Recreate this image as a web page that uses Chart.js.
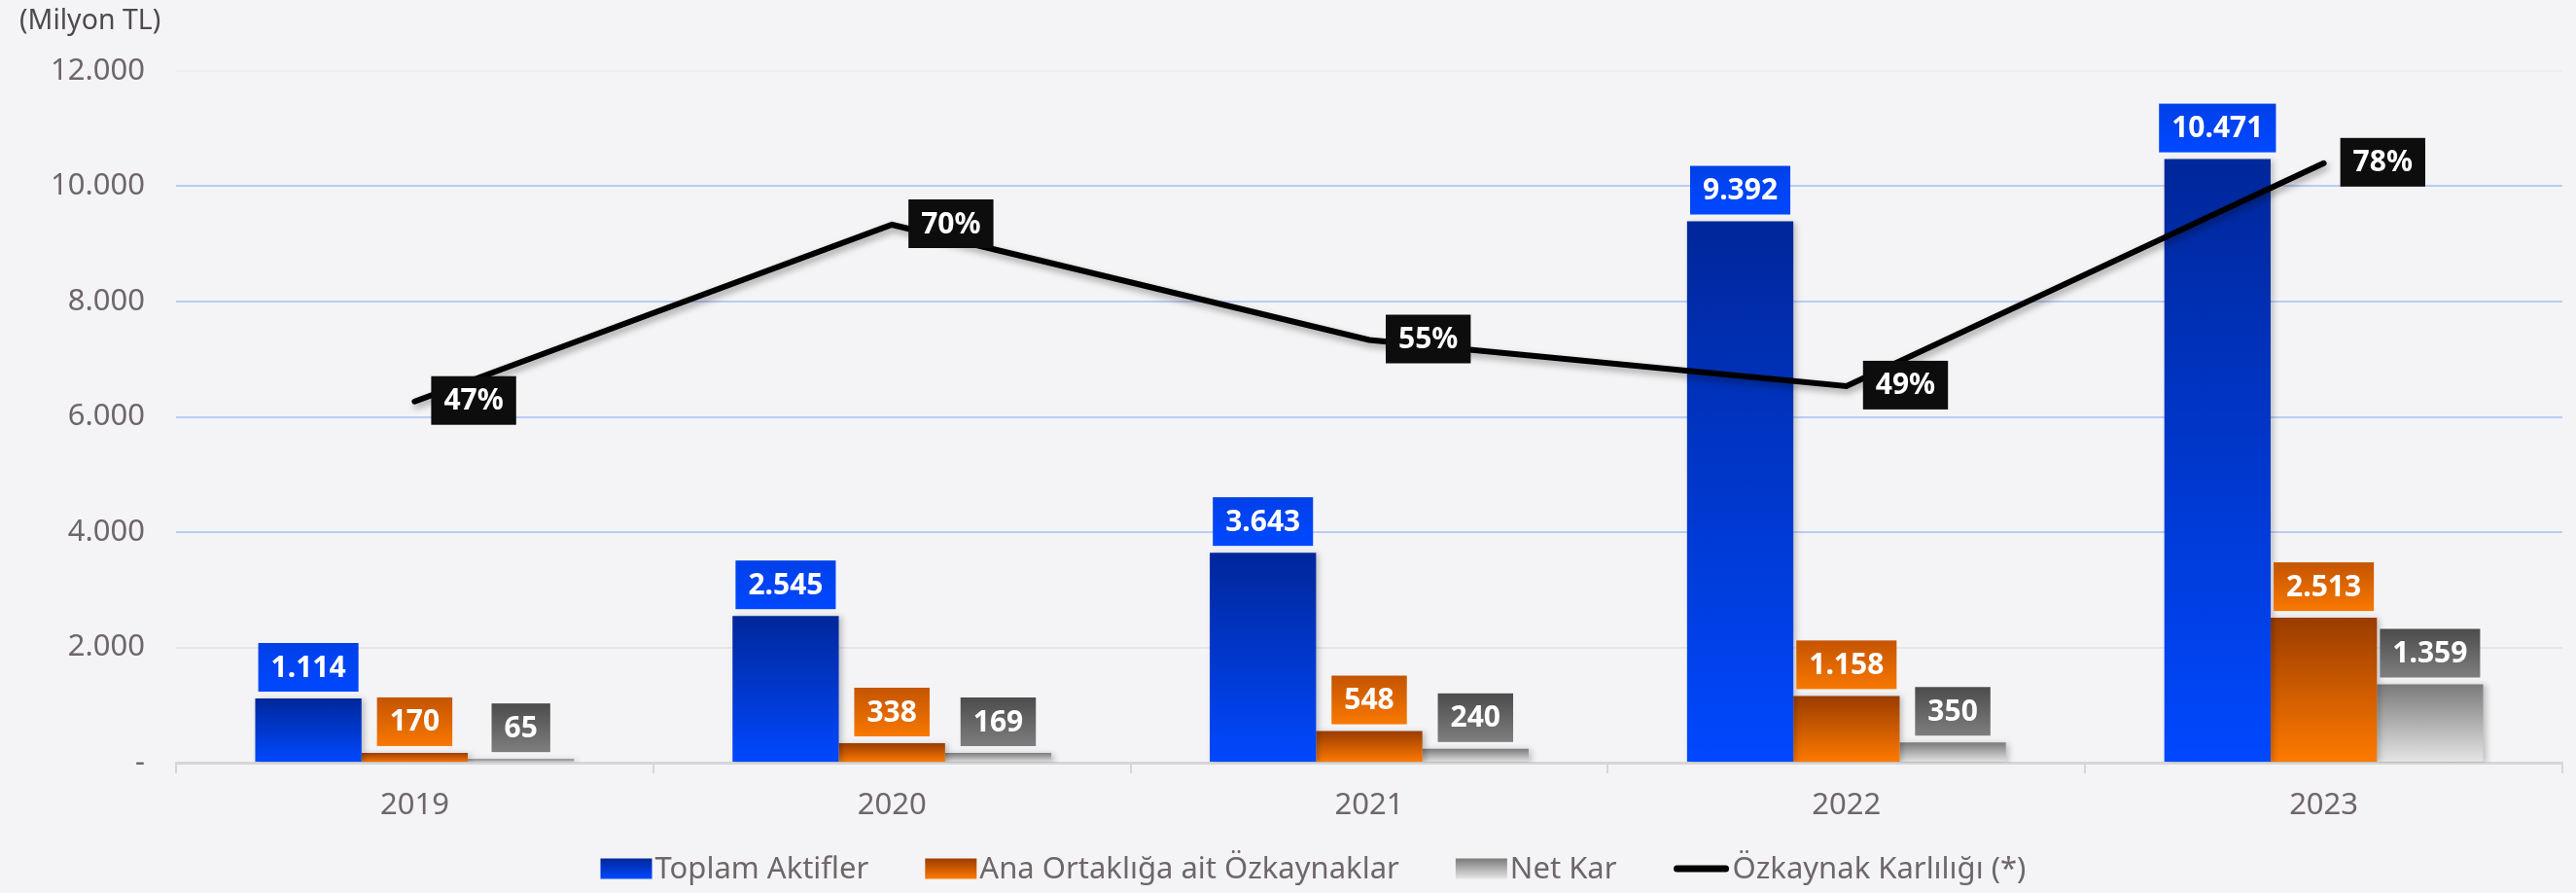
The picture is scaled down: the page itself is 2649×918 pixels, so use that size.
<!DOCTYPE html>
<html><head><meta charset="utf-8">
<script src="https://cdn.jsdelivr.net/npm/chart.js@4.4.0/dist/chart.umd.min.js"></script>
<style>html,body{margin:0;padding:0;background:#f4f4f6;overflow:hidden;}#wrap{width:2649px;height:918px;position:relative;}canvas{display:block;}</style>
</head><body><div id="wrap"><canvas id="c" width="2649" height="918" style="width:2649px;height:918px"></canvas></div>
<script>
const categories = ['2019','2020','2021','2022','2023'];
const toplamAktifler = [1114, 2545, 3643, 9392, 10471];
const anaOrtaklik = [170, 338, 548, 1158, 2513];
const netKar = [65, 169, 240, 350, 1359];
const ozkaynakKarliligi = [47, 70, 55, 49, 78];
const yTickValues = [0, 2000, 4000, 6000, 8000, 10000, 12000];
const seriesNames = ['Toplam Aktifler', 'Ana Ortaklığa ait Özkaynaklar', 'Net Kar', 'Özkaynak Karlılığı (*)'];
const unitLabel = '(Milyon TL)';

const FONT = '"Noto Sans", "DejaVu Sans", sans-serif';
const TEXT_COLOR = '#6e6668';
const pal = [
  {top:'#00279a', bottom:'#0048ff', lblTop:'#0040e8', lblBot:'#0048ff'},
  {top:'#9a3c00', bottom:'#ff7a00', lblTop:'#c45400', lblBot:'#f87800'},
  {top:'#7a7a7a', bottom:'#e6e6e6', lblTop:'#4c4c4c', lblBot:'#7e7e7e'}
];
function fmt(n){ return String(n).replace(/\B(?=(\d{3})+(?!\d))/g,'.'); }
function vGrad(c, top, bottom, c1, c2){
  const g = c.createLinearGradient(0, top, 0, bottom);
  g.addColorStop(0, c1); g.addColorStop(1, c2); return g;
}
function barFill(i){
  return (ctx) => {
    const ch = ctx.chart;
    if (!ch.chartArea || ctx.type !== 'data') return pal[i].bottom;
    const y = ch.scales.y;
    return vGrad(ch.ctx, y.getPixelForValue(ctx.raw), y.getPixelForValue(0), pal[i].top, pal[i].bottom);
  };
}

const bgPlugin = {
  id:'bg',
  beforeDraw(chart){ const c=chart.ctx; c.save(); c.fillStyle='#f4f4f6'; c.fillRect(0,0,chart.width,chart.height); c.restore(); }
};
const shadowPlugin = {
  id:'shadow',
  beforeDatasetDraw(chart, args){
    const c = chart.ctx; c.save();
    if (args.index === 3){ c.shadowColor='rgba(0,0,0,0.35)'; c.shadowBlur=7; c.shadowOffsetX=2; c.shadowOffsetY=4; }
    else { c.shadowColor='rgba(0,0,0,0.22)'; c.shadowBlur=6; c.shadowOffsetX=3; c.shadowOffsetY=1; }
  },
  afterDatasetDraw(chart){ chart.ctx.restore(); }
};
const labelPlugin = {
  id:'valueLabels',
  afterDatasetsDraw(chart){
    const c = chart.ctx;
    c.save();
    c.font = 'bold 30px ' + FONT;
    c.textAlign = 'center'; c.textBaseline = 'middle';
    for (let d = 0; d < 3; d++){
      const meta = chart.getDatasetMeta(d);
      const vals = chart.data.datasets[d].data;
      meta.data.forEach((el, i) => {
        const t = fmt(vals[i]);
        const w = c.measureText(t).width + 26;
        const h = 50;
        const bottom = el.y - 7;
        const top = bottom - h;
        c.fillStyle = vGrad(c, top, bottom, pal[d].lblTop, pal[d].lblBot);
        c.fillRect(el.x - w/2, top, w, h);
        c.fillStyle = '#ffffff';
        c.fillText(t, el.x, top + h/2 + 1);
      });
    }
    const lm = chart.getDatasetMeta(3);
    const lv = chart.data.datasets[3].data;
    lm.data.forEach((el, i) => {
      const t = lv[i] + '%';
      const w = c.measureText(t).width + 26;
      const h = 50;
      const left = el.x + 17;
      const top = el.y - 26;
      c.fillStyle = '#0d0d0d';
      c.fillRect(left, top, w, h);
      c.fillStyle = '#ffffff';
      c.fillText(t, left + w/2, top + h/2 + 1);
    });
    c.restore();
  }
};
const titleLegendPlugin = {
  id:'titleLegend',
  afterDraw(chart){
    const c = chart.ctx;
    c.save();
    c.font = '28.5px ' + FONT;
    c.fillStyle = '#4f4a4c';
    c.textAlign = 'left'; c.textBaseline = 'middle';
    c.fillText(unitLabel, 20, 22);
    c.font = '31px ' + FONT;
    c.fillStyle = TEXT_COLOR;
    const boxW = 53, boxH = 21, gapText = 3, gapItem = 58, lineW = 58;
    const items = chart.data.datasets.map((ds, i) => ({label: ds.label, i, tw: c.measureText(ds.label).width}));
    let total = 0;
    items.forEach((it, k) => { total += (it.i === 3 ? lineW : boxW) + gapText + it.tw + (k < items.length-1 ? gapItem : 0); });
    let x = chart.width * 0.5098 - total/2;
    const cy = 893;
    items.forEach(it => {
      if (it.i === 3){
        c.strokeStyle = '#000'; c.lineWidth = 7; c.lineCap = 'round';
        c.beginPath(); c.moveTo(x + 4, cy); c.lineTo(x + lineW - 4, cy); c.stroke();
        x += lineW;
      } else {
        c.fillStyle = vGrad(c, cy - boxH/2, cy + boxH/2, pal[it.i].top, pal[it.i].bottom);
        c.fillRect(x, cy - boxH/2, boxW, boxH);
        x += boxW;
      }
      x += gapText;
      c.fillStyle = TEXT_COLOR;
      c.fillText(it.label, x, cy + 1);
      x += it.tw + gapItem;
    });
    c.restore();
  }
};

const ctxEl = document.getElementById('c');
new Chart(ctxEl, {
  data: {
    labels: categories,
    datasets: [
      {type:'bar', label: seriesNames[0], data: toplamAktifler, backgroundColor: barFill(0), order: 2},
      {type:'bar', label: seriesNames[1], data: anaOrtaklik, backgroundColor: barFill(1), order: 2},
      {type:'bar', label: seriesNames[2], data: netKar, backgroundColor: barFill(2), order: 2},
      {type:'line', label: seriesNames[3], data: ozkaynakKarliligi, yAxisID:'y1', borderColor:'#000000', borderWidth:6,
       pointRadius:0, tension:0, borderCapStyle:'round', borderJoinStyle:'miter', order: 1}
    ]
  },
  options: {
    responsive:false, animation:false,
    devicePixelRatio:1,
    layout:{padding:{left:0, right:14, top:73, bottom:0}},
    datasets:{bar:{categoryPercentage:0.668, barPercentage:1.0, borderWidth:0}},
    plugins:{legend:{display:false}, tooltip:{enabled:false}},
    scales:{
      x:{
        grid:{drawOnChartArea:false, drawTicks:true, tickLength:11, color:'#d6d6d8', lineWidth:2, offset:true},
        border:{display:true, color:'#d6d6d8', width:3},
        ticks:{font:{family:FONT, size:31}, color:TEXT_COLOR, padding:15},
        afterFit(s){ s.height = 134; }
      },
      y:{
        min:0, max:12000,
        afterBuildTicks(s){ s.ticks = yTickValues.map(v => ({value:v})); },
        grid:{drawTicks:false, lineWidth:2,
          color:(ctx)=>{ const v = ctx.tick && ctx.tick.value; if (v===0) return 'rgba(0,0,0,0)'; if (v>=4000 && v<=10000) return '#b9ccf4'; if (v===2000) return '#e6e6e9'; return '#eeeef0'; }},
        border:{display:false},
        ticks:{font:{family:FONT, size:31}, color:TEXT_COLOR, padding:32,
          callback:(v)=> v===0 ? '-' : fmt(v)},
        afterFit(s){ s.width = 181; }
      },
      y1:{display:false, min:0, max:90, position:'right'}
    }
  },
  plugins:[bgPlugin, shadowPlugin, labelPlugin, titleLegendPlugin]
});
</script></body></html>
